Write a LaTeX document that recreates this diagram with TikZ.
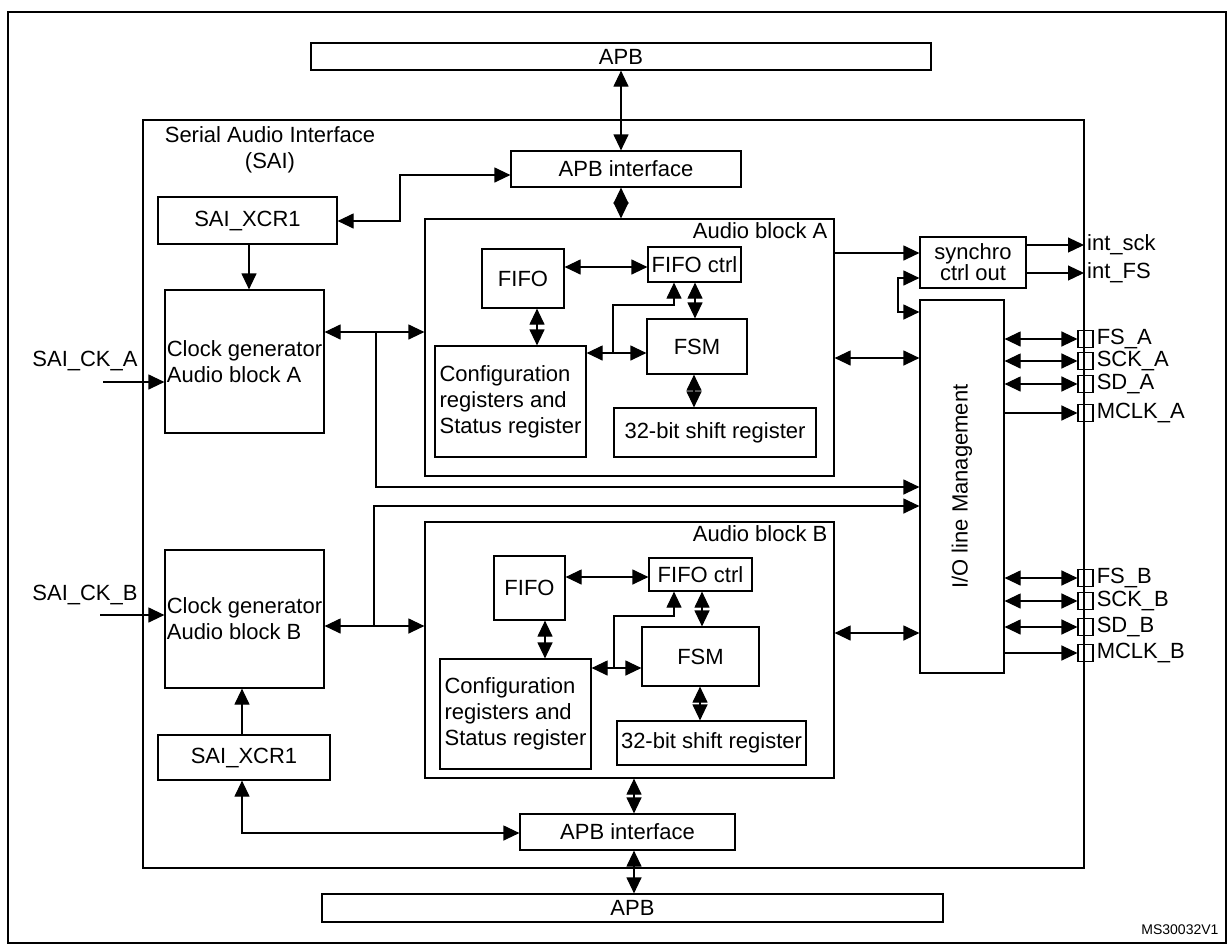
\documentclass[tikz,border=0pt]{standalone}
\usepackage{fontspec}
\setmainfont{Liberation Sans}
\usetikzlibrary{positioning, arrows.meta}

\tikzset{
    blk/.style={draw, line width=1.2pt, inner sep=2pt, font=\fontsize{22}{26}\selectfont},
    pin/.style={draw, line width=1.1pt, minimum width=15pt, minimum height=17pt, inner sep=0pt},
    lbl/.style={font=\fontsize{22}{26}\selectfont, inner sep=1pt},
    link/.style={line width=1.2pt, -{Triangle[length=16pt, width=15pt]}},
    both/.style={line width=1.2pt, {Triangle[length=16pt, width=15pt]}-{Triangle[length=16pt, width=15pt]}}
}

\begin{document}
\begin{tikzpicture}[x=1pt, y=-1pt]
    \useasboundingbox (0,0) rectangle (1229,943);
    % Cadre
    \draw[line width=1.3pt] (8,12) rectangle (1226,943);
    \draw[line width=1.3pt] (143,120) rectangle (1084,868);
    \node[lbl, align=center] (sai) at (270,150) {Serial Audio Interface\\(SAI)};

    % Bus APB
    \node[blk, minimum width=620pt, minimum height=27pt] (apbT) at (621,56.5) {APB};
    \node[blk, minimum width=621pt, minimum height=28pt] (apbB) at (632.5,908) {APB};
    \node[blk, minimum width=230pt, minimum height=36pt] (ifT) at (626,169) {APB interface};
    \node[blk, minimum width=215pt, minimum height=36pt] (ifB) at (627.5,832) {APB interface};

    % Registres et horloges
    \node[blk, minimum width=179pt, minimum height=47pt] (xcrA) at (247.5,220.5) {SAI\_XCR1};
    \node[blk, minimum width=172pt, minimum height=45pt] (xcrB) at (244,757.5) {SAI\_XCR1};
    \node[blk, minimum width=159pt, minimum height=143pt, align=left, inner sep=1pt] (clkA) at (244.5,361.5) {Clock generator\\Audio block A};
    \node[blk, minimum width=159pt, minimum height=138pt, align=left, inner sep=1pt] (clkB) at (244.5,619) {Clock generator\\Audio block B};
    \node[lbl, anchor=south] (ckA) at (85,372) {SAI\_CK\_A};
    \node[lbl, anchor=south] (ckB) at (85,606) {SAI\_CK\_B};
    \coordinate (ckAin) at (103,382);
    \coordinate (ckBin) at (100,615);

    % Audio block A
    \node[blk, minimum width=409pt, minimum height=257pt] (audA) at (629.5,347.5) {};
    \node[lbl, anchor=north east] at ([shift={(-6,3)}]audA.north east) {Audio block A};
    \node[blk, minimum width=82pt, minimum height=59pt] (fifoA) at (523,278.5) {FIFO};
    \node[blk, minimum width=93pt, minimum height=35pt, inner sep=0pt] (ctrlA) at (694.5,264.5) {FIFO ctrl};
    \node[blk, minimum width=100pt, minimum height=55pt] (fsmA) at (697,346.5) {FSM};
    \node[blk, minimum width=151pt, minimum height=111pt, align=left, inner sep=1pt] (cfgA) at (510.5,401.5) {Configuration\\registers and\\Status register};
    \node[blk, minimum width=202pt, minimum height=49pt] (shA) at (715,432.5) {32-bit shift register};

    % Audio block B
    \node[blk, minimum width=409pt, minimum height=256pt] (audB) at (629.5,650) {};
    \node[lbl, anchor=north east] at ([shift={(-6,3)}]audB.north east) {Audio block B};
    \node[blk, minimum width=71pt, minimum height=64pt] (fifoB) at (529.5,588) {FIFO};
    \node[blk, minimum width=103pt, minimum height=33pt, inner sep=0pt] (ctrlB) at (700.5,574.5) {FIFO ctrl};
    \node[blk, minimum width=117pt, minimum height=59pt] (fsmB) at (700.5,656.5) {FSM};
    \node[blk, minimum width=151pt, minimum height=110pt, align=left, inner sep=1pt] (cfgB) at (515.5,714) {Configuration\\registers and\\Status register};
    \node[blk, minimum width=189pt, minimum height=44pt] (shB) at (711.5,743) {32-bit shift register};

    % Sorties
    \node[blk, minimum width=106pt, minimum height=51pt, align=center, inner sep=0pt, font=\fontsize{22}{21}\selectfont] (sync) at (973,262.5) {synchro\\ctrl out};
    \node[blk, minimum width=84pt, minimum height=373pt] (io) at (962,486.5) {};
    \node[lbl, rotate=90] at (io) {I/O line Management};
    \node[lbl, anchor=west] (isck) at (1086,245) {int\_sck};
    \node[lbl, anchor=west] (ifs) at (1086,273) {int\_FS};
    \foreach \nm/\yy in {FS_A/339, SCK_A/361, SD_A/384, MCLK_A/413, FS_B/578, SCK_B/601, SD_B/627, MCLK_B/653} {
        \node[pin] (p\nm) at (1085.5,\yy) {};
        \node[lbl, anchor=west] at ([xshift=2pt]p\nm.east) {\detokenize\expandafter{\nm}};
    }

    % Liaisons bus
    \draw[both] (apbT.south -| 621,0) -- (ifT.north -| 621,0);
    \draw[both] (ifT.south -| 621,0) -- (audA.north -| 621,0);
    \draw[both] (audB.south -| 634,0) -- (ifB.north -| 634,0);
    \draw[both] (ifB.south -| 634,0) -- (apbB.north -| 634,0);
    \draw[both] (ifT.west |- 0,175) -- (400,175) -- (400,221) -- (xcrA.east |- 0,221);
    \draw[both] (ifB.west |- 0,833) -- (242,833) -- (xcrB.south -| 242,0);
    \draw[link] (xcrA.south -| 249,0) -- (clkA.north -| 249,0);
    \draw[link] (xcrB.north -| 242,0) -- (clkB.south -| 242,0);
    \draw[link] (ckAin) -- (clkA.west |- ckAin);
    \draw[link] (ckBin) -- (clkB.west |- ckBin);

    % Horloges vers blocs
    \draw[both] (clkA.east |- 0,332) -- (audA.west |- 0,332);
    \draw[link] (376,332) -- (376,487) -- (io.west |- 0,487);
    \draw[both] (clkB.east |- 0,626) -- (audB.west |- 0,626);
    \draw[link] (374,626) -- (374,506) -- (io.west |- 0,506);

    % Interne bloc A
    \draw[both] (fifoA.east |- 0,267) -- (ctrlA.west |- 0,267);
    \draw[both] (fifoA.south -| 537,0) -- (cfgA.north -| 537,0);
    \draw[both] (ctrlA.south -| 695,0) -- (fsmA.north -| 695,0);
    \draw[both] (fsmA.south -| 694,0) -- (shA.north -| 694,0);
    \draw[both] (cfgA.east |- 0,353) -- (fsmA.west |- 0,353);
    \draw[link] (613,353) -- (613,305) -- (674,305) -- (ctrlA.south -| 674,0);

    % Interne bloc B
    \draw[both] (fifoB.east |- 0,577) -- (ctrlB.west |- 0,577);
    \draw[both] (fifoB.south -| 545,0) -- (cfgB.north -| 545,0);
    \draw[both] (ctrlB.south -| 702,0) -- (fsmB.north -| 702,0);
    \draw[both] (fsmB.south -| 700,0) -- (shB.north -| 700,0);
    \draw[both] (cfgB.east |- 0,668) -- (fsmB.west |- 0,668);
    \draw[link] (614,668) -- (614,616) -- (674,616) -- (ctrlB.south -| 674,0);

    % Blocs vers sorties
    \draw[link] (audA.east |- 0,253) -- (sync.west |- 0,253);
    \draw[both] (sync.west |- 0,278) -- (898,278) -- (898,312) -- (io.west |- 0,312);
    \draw[both] (audA.east |- 0,358) -- (io.west |- 0,358);
    \draw[both] (audB.east |- 0,633) -- (io.west |- 0,633);
    \draw[link] (sync.east |- isck) -- (1084,245);
    \draw[link] (sync.east |- ifs) -- (1084,273);
    \foreach \nm in {FS_A, SCK_A, SD_A, FS_B, SCK_B, SD_B}
        \draw[both] (io.east |- p\nm) -- (p\nm.west);
    \draw[link] (io.east |- pMCLK_A) -- (pMCLK_A.west);
    \draw[link] (io.east |- pMCLK_B) -- (pMCLK_B.west);

    \node[font=\fontsize{14}{16}\selectfont, anchor=south east] (ref) at (1222,938) {MS30032V1};
\end{tikzpicture}
\end{document}
